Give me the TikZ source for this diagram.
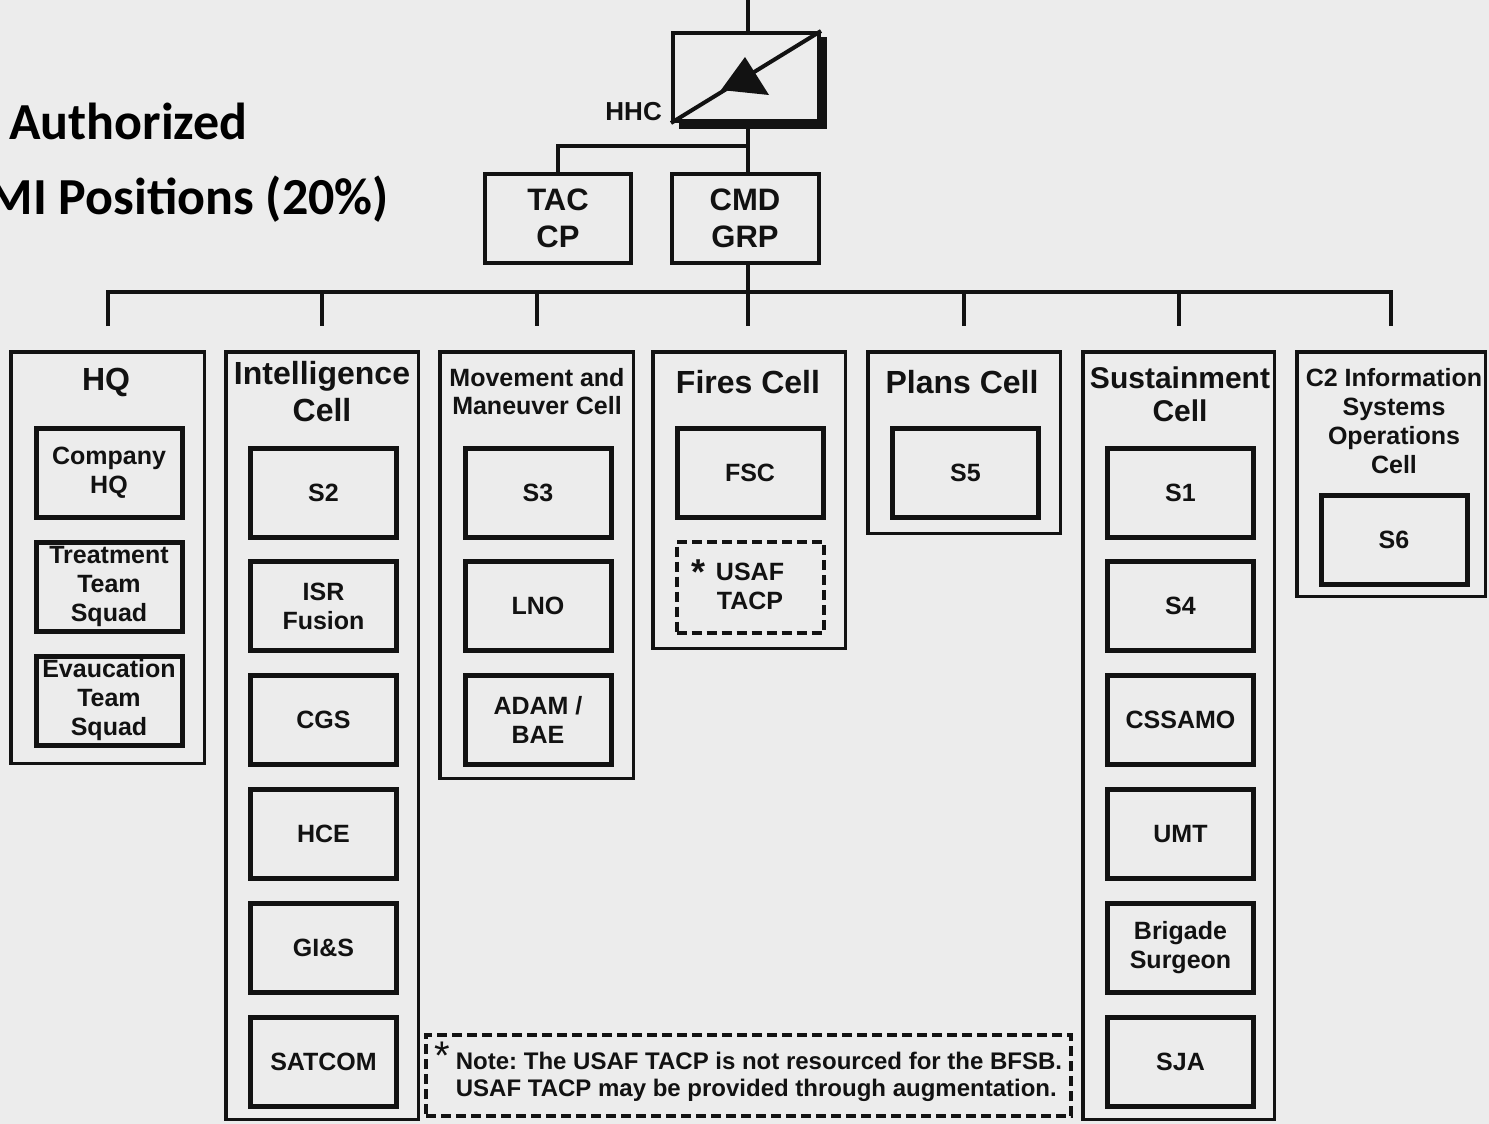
\documentclass[tikz,border=0pt]{standalone}
\usepackage{fontspec}
\setmainfont{Liberation Sans}
\newfontfamily\calib{Carlito}
\usetikzlibrary{calc}
\definecolor{bg}{RGB}{236,236,236}
\definecolor{ink}{RGB}{18,18,18}
\newcommand{\fsz}[2]{\fontsize{#1pt}{#2pt}\selectfont\bfseries}
\frenchspacing
\begin{document}
\begin{tikzpicture}[x=1pt,y=-1pt,
  cellbox/.style={draw=ink, line width=3.5pt, inner sep=0pt},
  unitbox/.style={draw=ink, line width=5pt, minimum width=146pt, minimum height=89pt, inner sep=0pt, align=center, font=\fsz{25}{29}, text=ink},
  dashbox/.style={draw=ink, line width=4pt, dash pattern=on 10pt off 5pt, inner sep=0pt},
  title/.style={align=center, font=\fsz{32}{37}, text=ink, inner sep=0pt},
  subtitle/.style={align=center, font=\fsz{25}{29}, text=ink, inner sep=0pt},
  conn/.style={draw=ink, line width=4pt, line join=miter},
  bigtext/.style={font=\calib\fontsize{52pt}{52pt}\selectfont\bfseries, text=black, inner sep=0pt}
]
\fill[bg] (0,0) rectangle (1489,1124);
\useasboundingbox (0,0) rectangle (1489,1124);

% left heading
\node[bigtext, anchor=base west] (auth) at (9,139) {Authorized};
\begin{scope}
\clip (0,0) rectangle (1489,1124);
\node[bigtext, anchor=base east] (mip) at (389,214) {MI Positions (20\%)};
\end{scope}

% HHC symbol
\node[draw=ink, line width=4pt, minimum width=146pt, minimum height=88pt, inner sep=0pt] (hhc) at (746,77) {};
\fill[ink] ($(hhc.north east)+(0,6)$) rectangle ($(hhc.south east)+(6,6)$);
\fill[ink] ($(hhc.south west)+(8,0)$) rectangle ($(hhc.south east)+(6,6)$);
\draw[ink, line width=4pt] (hhc.south west) -- (hhc.north east);
\fill[ink] (745,57) -- (721,90) -- (769,95) -- cycle;
\node[font=\fsz{26}{26}, text=ink, anchor=east, inner sep=0pt] (hhcl) at (662,112) {HHC};

% command level
\node[draw=ink, line width=4pt, minimum width=146pt, minimum height=89pt, inner sep=0pt, align=center, font=\fsz{31}{37}, text=ink] (tac) at (558,218.5) {TAC\\CP};
\node[draw=ink, line width=4pt, minimum width=147pt, minimum height=89pt, inner sep=0pt, align=center, font=\fsz{31}{37}, text=ink] (cmd) at (745,218.5) {CMD\\GRP};

\coordinate (top) at (748,0);
\coordinate (j1) at (748,146);
\coordinate (bus) at (0,292);
\draw[conn] (top) -- (top |- hhc.north);
\draw[conn] (top |- hhc.south) -- (top |- cmd.north);
\draw[conn] (j1) -| (tac.north);

% cells
\node[cellbox, minimum width=193.5pt, minimum height=411.5pt] (hq) at (107.5,557.5) {};
\node[cellbox, minimum width=192.5pt, minimum height=767.5pt] (intel) at (322,735.5) {};
\node[cellbox, minimum width=193.5pt, minimum height=426.5pt] (mm) at (536.5,565) {};
\node[cellbox, minimum width=192.5pt, minimum height=296.5pt] (fires) at (749,500) {};
\node[cellbox, minimum width=192.5pt, minimum height=181.5pt] (plans) at (964,442.5) {};
\node[cellbox, minimum width=191.5pt, minimum height=767.5pt] (sust) at (1178.5,735.5) {};
\node[cellbox, minimum width=188.5pt, minimum height=244.5pt] (c2) at (1391,474) {};

% bus and drops
\draw[conn] (top |- cmd.south) -- ($(top |- bus)+(0,34)$);
\draw[conn] ($(hq.north |- bus)+(0,34)$) -- (hq.north |- bus) -- (c2.north |- bus) -- ++(0,34);
\draw[conn] (intel.north |- bus) -- ++(0,34);
\draw[conn] (mm.north |- bus) -- ++(0,34);
\draw[conn] (plans.north |- bus) -- ++(0,34);
\draw[conn] (sust.north |- bus) -- ++(0,34);

% titles
\node[title] (hqT) at (106,382) {HQ};
\node[title] (intelT) at (322,391.5) {Intelligence\\Cell};
\node[subtitle, font=\fsz{25}{28}] (mmT) at (537,392) {Movement and\\Maneuver Cell};
\node[title] (firesT) at (748,382) {Fires Cell};
\node[title] (plansT) at (962,382) {Plans Cell};
\node[title, font=\fsz{30}{33}] (sustT) at (1180,394.5) {Sustainment\\Cell};
\node[subtitle] (c2T) at (1394,421.5) {C2 Information\\Systems\\Operations\\Cell};

% HQ units
\node[unitbox] (chq) at (109,473) {Company\\HQ};
\node[unitbox] (tts) at (109,586.5) {Treatment\\Team\\Squad};
\node[unitbox] (ets) at (109,700.5) {Evaucation\\Team\\Squad};

% Intelligence units
\node[unitbox] (s2) at (323.5,493) {S2};
\node[unitbox] (isr) at (323.5,606) {ISR\\Fusion};
\node[unitbox] (cgs) at (323.5,720) {CGS};
\node[unitbox] (hce) at (323.5,834) {HCE};
\node[unitbox] (gis) at (323.5,948) {GI\&S};
\node[unitbox] (satcom) at (323.5,1062) {SATCOM};

% Movement and maneuver units
\node[unitbox] (s3) at (538,493) {S3};
\node[unitbox] (lno) at (538,606) {LNO};
\node[unitbox] (adam) at (538,720) {ADAM /\\BAE};

% Fires units
\node[unitbox] (fsc) at (750,473) {FSC};
\node[dashbox, minimum width=147pt, minimum height=91pt] (usaf) at (750,587) {};
\node[subtitle, font=\fsz{25}{29}] (usafT) at (750,586) {USAF\\TACP};
\node[font=\fsz{36}{36}, text=ink, inner sep=0pt] (usafS) at (698,572) {*};

% Plans unit
\node[unitbox] (s5) at (965.5,473) {S5};

% Sustainment units
\node[unitbox] (s1) at (1180.5,493) {S1};
\node[unitbox] (s4) at (1180.5,606) {S4};
\node[unitbox] (cssamo) at (1180.5,720) {CSSAMO};
\node[unitbox] (umt) at (1180.5,834) {UMT};
\node[unitbox] (surg) at (1180.5,948) {Brigade\\Surgeon};
\node[unitbox] (sja) at (1180.5,1062) {SJA};

% C2 unit
\node[unitbox] (s6) at (1394,540) {S6};

% note
\node[dashbox, minimum width=645pt, minimum height=81pt] (note) at (748.5,1075.5) {};
\node[align=left, font=\fsz{24}{27}, text=ink, inner sep=0pt] (noteT) at (759,1077) {Note: The USAF TACP is not resourced for the BFSB.\\USAF TACP may be provided through augmentation.};
\node[font=\fontsize{40pt}{40pt}\selectfont, text=ink, inner sep=0pt] (noteS) at (442,1056) {*};
\end{tikzpicture}
\end{document}
